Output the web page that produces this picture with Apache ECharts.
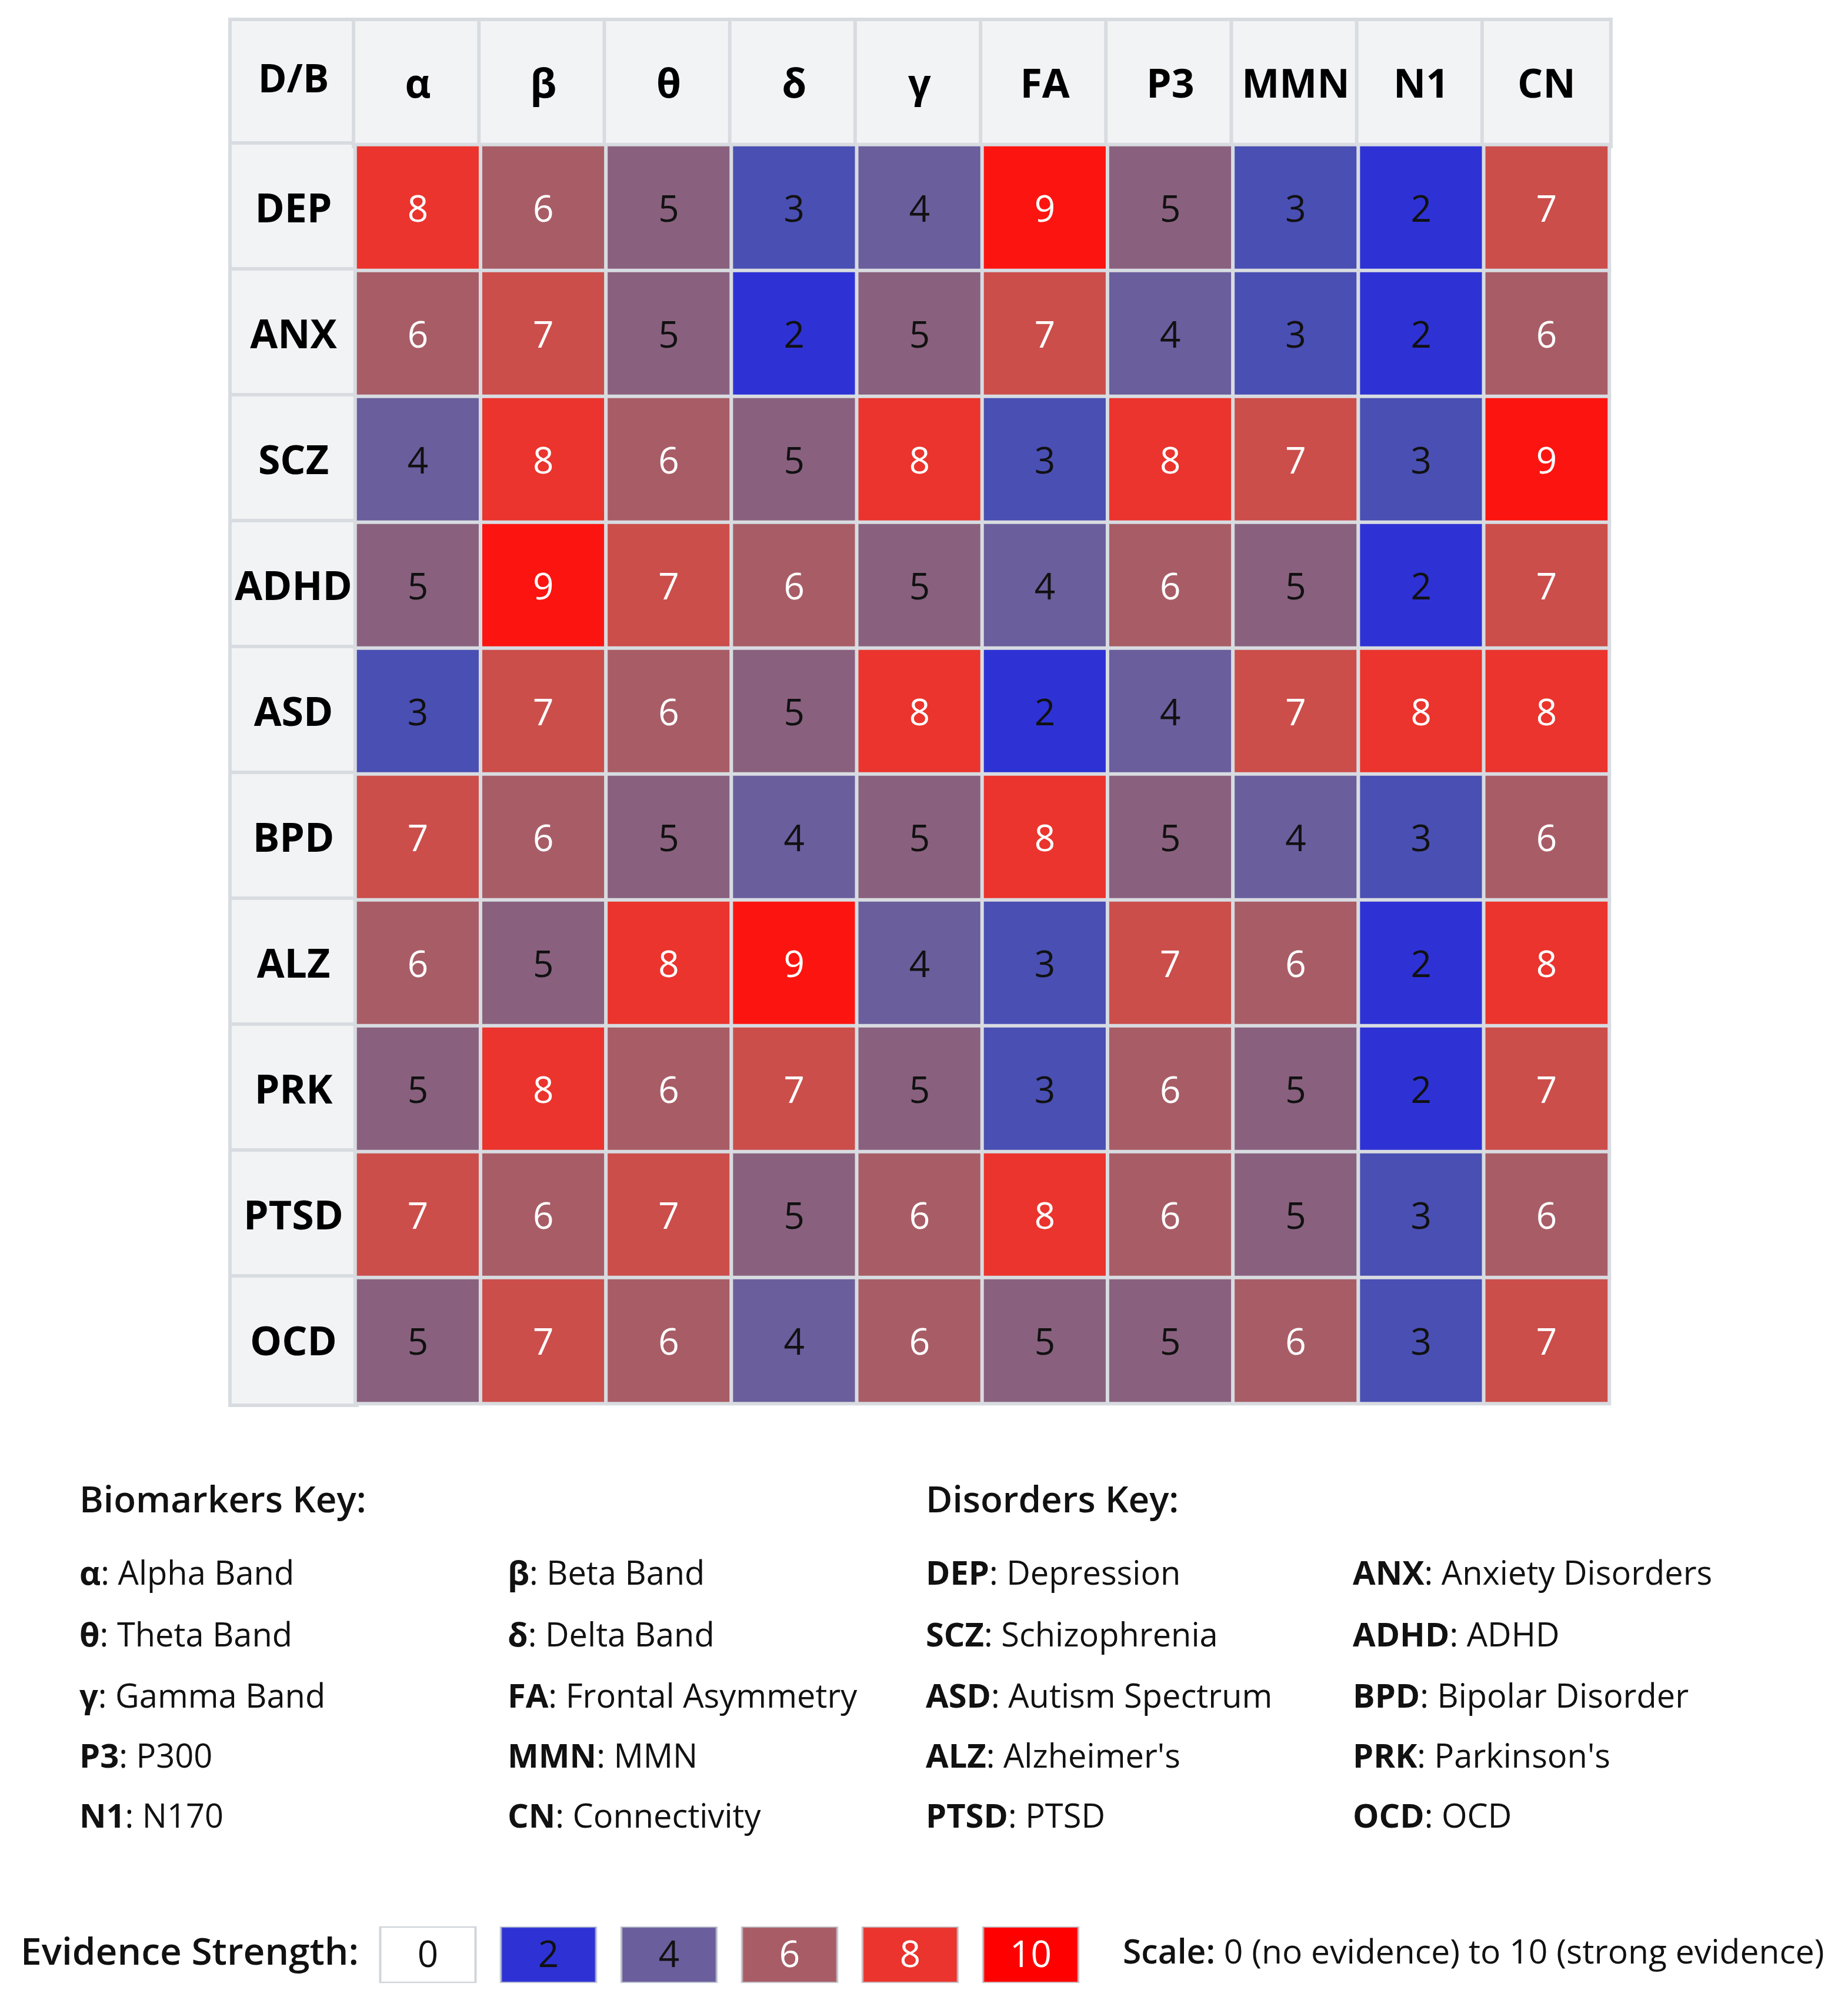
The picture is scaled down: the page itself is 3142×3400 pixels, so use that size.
<!DOCTYPE html>
<html>
<head>
<meta charset="utf-8">
<script src="https://cdn.jsdelivr.net/npm/echarts@6/dist/echarts.min.js"></script>
<style>
html,body{margin:0;padding:0;background:#ffffff;}
#chart{width:3142px;height:3400px;}
</style>
</head>
<body>
<div id="chart"></div>
<script>
// ---------- data ----------
const biomarkers = ['α', 'β', 'θ', 'δ', 'γ', 'FA', 'P3', 'MMN', 'N1', 'CN'];
const disorders = ['DEP', 'ANX', 'SCZ', 'ADHD', 'ASD', 'BPD', 'ALZ', 'PRK', 'PTSD', 'OCD'];

const DEP  = [8, 6, 5, 3, 4, 9, 5, 3, 2, 7];
const ANX  = [6, 7, 5, 2, 5, 7, 4, 3, 2, 6];
const SCZ  = [4, 8, 6, 5, 8, 3, 8, 7, 3, 9];
const ADHD = [5, 9, 7, 6, 5, 4, 6, 5, 2, 7];
const ASD  = [3, 7, 6, 5, 8, 2, 4, 7, 8, 8];
const BPD  = [7, 6, 5, 4, 5, 8, 5, 4, 3, 6];
const ALZ  = [6, 5, 8, 9, 4, 3, 7, 6, 2, 8];
const PRK  = [5, 8, 6, 7, 5, 3, 6, 5, 2, 7];
const PTSD = [7, 6, 7, 5, 6, 8, 6, 5, 3, 6];
const OCD  = [5, 7, 6, 4, 6, 5, 5, 6, 3, 7];
const rows = [DEP, ANX, SCZ, ADHD, ASD, BPD, ALZ, PRK, PTSD, OCD];

const scaleSteps = [0, 2, 4, 6, 8, 10];

const biomarkerNames = ['Alpha Band', 'Beta Band', 'Theta Band', 'Delta Band', 'Gamma Band',
  'Frontal Asymmetry', 'P300', 'MMN', 'N170', 'Connectivity'];
const disorderNames = ['Depression', 'Anxiety Disorders', 'Schizophrenia', 'ADHD', 'Autism Spectrum',
  'Bipolar Disorder', "Alzheimer's", "Parkinson's", 'PTSD', 'OCD'];

// ---------- styles ----------
const palette = ['#ffffff', '#1a1ee0', '#2e32d4', '#4a4fb3', '#6a5e9c', '#89617e',
  '#a85d66', '#cb4e4b', '#ea342d', '#fc1510', '#ff0000'];
const FONT = 'Open Sans';
const GAP = '#d8dce1';
const HEAD_BG = '#f2f3f5';

const heatData = [];
rows.forEach((r, ri) => r.forEach((v, ci) => heatData.push([ci, ri, v])));

const valueLabel = {
  show: true,
  offset: [0, 6],
  formatter: p => (p.value[2] >= 6 ? '{w|' : '{k|') + p.value[2] + '}',
  rich: {
    w: { color: '#ffffff', fontSize: 62, fontFamily: FONT },
    k: { color: '#111111', fontSize: 62, fontFamily: FONT }
  }
};

// header cell style (rich token so text can sit slightly below the box centre)
function headRich(w, h) {
  return {
    h: {
      fontFamily: FONT, fontWeight: 'bold', fontSize: 68, color: '#000',
      width: w, height: h - 12, lineHeight: h - 12, padding: [12, 0, 0, 0], align: 'center',
      backgroundColor: HEAD_BG, borderColor: GAP, borderWidth: 6
    }
  };
}

// key text graphics
const graphics = [];
function keyItem(abbr, name, x, y) {
  graphics.push({
    type: 'text', x: x, y: y,
    style: {
      text: '{b|' + abbr + '}{r|: ' + name + '}',
      verticalAlign: 'middle',
      rich: {
        b: { fontFamily: FONT, fontWeight: 'bold', fontSize: 56, fill: '#111' },
        r: { fontFamily: FONT, fontSize: 56, fill: '#111' }
      }
    }
  });
}
const keyRowY = [2678, 2783, 2887, 2989, 3091];
const bioColX = [135, 863];
const disColX = [1574, 2300];
biomarkers.forEach((b, i) => keyItem(b, biomarkerNames[i], bioColX[i % 2], keyRowY[Math.floor(i / 2)]));
disorders.forEach((d, i) => keyItem(d, disorderNames[i], disColX[i % 2], keyRowY[Math.floor(i / 2)]));

graphics.push({
  type: 'text', x: 135, y: 2553,
  style: { text: 'Biomarkers Key:', fontFamily: FONT, fontWeight: 600, fontSize: 62, fill: '#111', verticalAlign: 'middle' }
});
graphics.push({
  type: 'text', x: 1574, y: 2553,
  style: { text: 'Disorders Key:', fontFamily: FONT, fontWeight: 600, fontSize: 62, fill: '#111', verticalAlign: 'middle' }
});
graphics.push({
  type: 'text', x: 35, y: 3322,
  style: { text: 'Evidence Strength:', fontFamily: FONT, fontWeight: 600, fontSize: 64, fill: '#111', verticalAlign: 'middle' }
});
graphics.push({
  type: 'text', x: 1909, y: 3322,
  style: {
    text: '{b|Scale:}{r| 0 (no evidence) to 10 (strong evidence)}',
    verticalAlign: 'middle',
    rich: {
      b: { fontFamily: FONT, fontWeight: 600, fontSize: 57, fill: '#111' },
      r: { fontFamily: FONT, fontSize: 57, fill: '#111' }
    }
  }
});
// corner header cell
graphics.push({
  type: 'text', x: 499, y: 138,
  style: {
    text: '{h|D/B}', align: 'center', verticalAlign: 'middle',
    rich: {
      h: {
        fontFamily: FONT, fontWeight: 'bold', fontSize: 66, fill: '#000',
        width: 210, height: 204, lineHeight: 204, align: 'center',
        backgroundColor: HEAD_BG, borderColor: GAP, borderWidth: 6
      }
    }
  }
});

const chart = echarts.init(document.getElementById('chart'), null, { renderer: 'canvas' });
chart.setOption({
  backgroundColor: '#ffffff',
  animation: false,
  grid: [
    { left: 604, top: 246, width: 2132, height: 2140, containLabel: false },
    { left: 625, top: 3276, width: 1230, height: 94, containLabel: false }
  ],
  xAxis: [
    {
      type: 'category', gridIndex: 0, position: 'top', data: biomarkers,
      axisLine: { show: false }, axisTick: { show: false }, splitLine: { show: false },
      axisLabel: {
        interval: 0, margin: 105, align: 'center', verticalAlign: 'middle',
        formatter: v => '{h|' + v + '}',
        rich: headRich(213, 210)
      }
    },
    {
      type: 'category', gridIndex: 1, data: scaleSteps.map(String), show: false
    }
  ],
  yAxis: [
    {
      type: 'category', gridIndex: 0, inverse: true, data: disorders,
      axisLine: { show: false }, axisTick: { show: false }, splitLine: { show: false },
      axisLabel: {
        interval: 0, margin: 105, align: 'center', verticalAlign: 'middle',
        formatter: v => '{h|' + v + '}',
        rich: headRich(210, 214)
      }
    },
    {
      type: 'category', gridIndex: 1, data: ['scale'], show: false
    }
  ],
  visualMap: {
    type: 'piecewise', show: false, dimension: 2, seriesIndex: [0, 1],
    pieces: palette.map((c, i) => ({ value: i, color: c }))
  },
  series: [
    {
      type: 'heatmap', xAxisIndex: 0, yAxisIndex: 0, data: heatData,
      itemStyle: { borderColor: GAP, borderWidth: 6 },
      label: valueLabel,
      emphasis: { disabled: true }
    },
    {
      type: 'scatter', xAxisIndex: 1, yAxisIndex: 1,
      data: scaleSteps.map((v, i) => [i, 0, v]),
      symbol: 'rect', symbolSize: [162, 94],
      itemStyle: { opacity: 1, borderColor: 'rgba(190,196,204,0.7)', borderWidth: 3 },
      label: Object.assign({ position: 'inside' }, valueLabel, { offset: [0, 3] }),
      emphasis: { disabled: true }
    }
  ],
  graphic: graphics
});
</script>
</body>
</html>
